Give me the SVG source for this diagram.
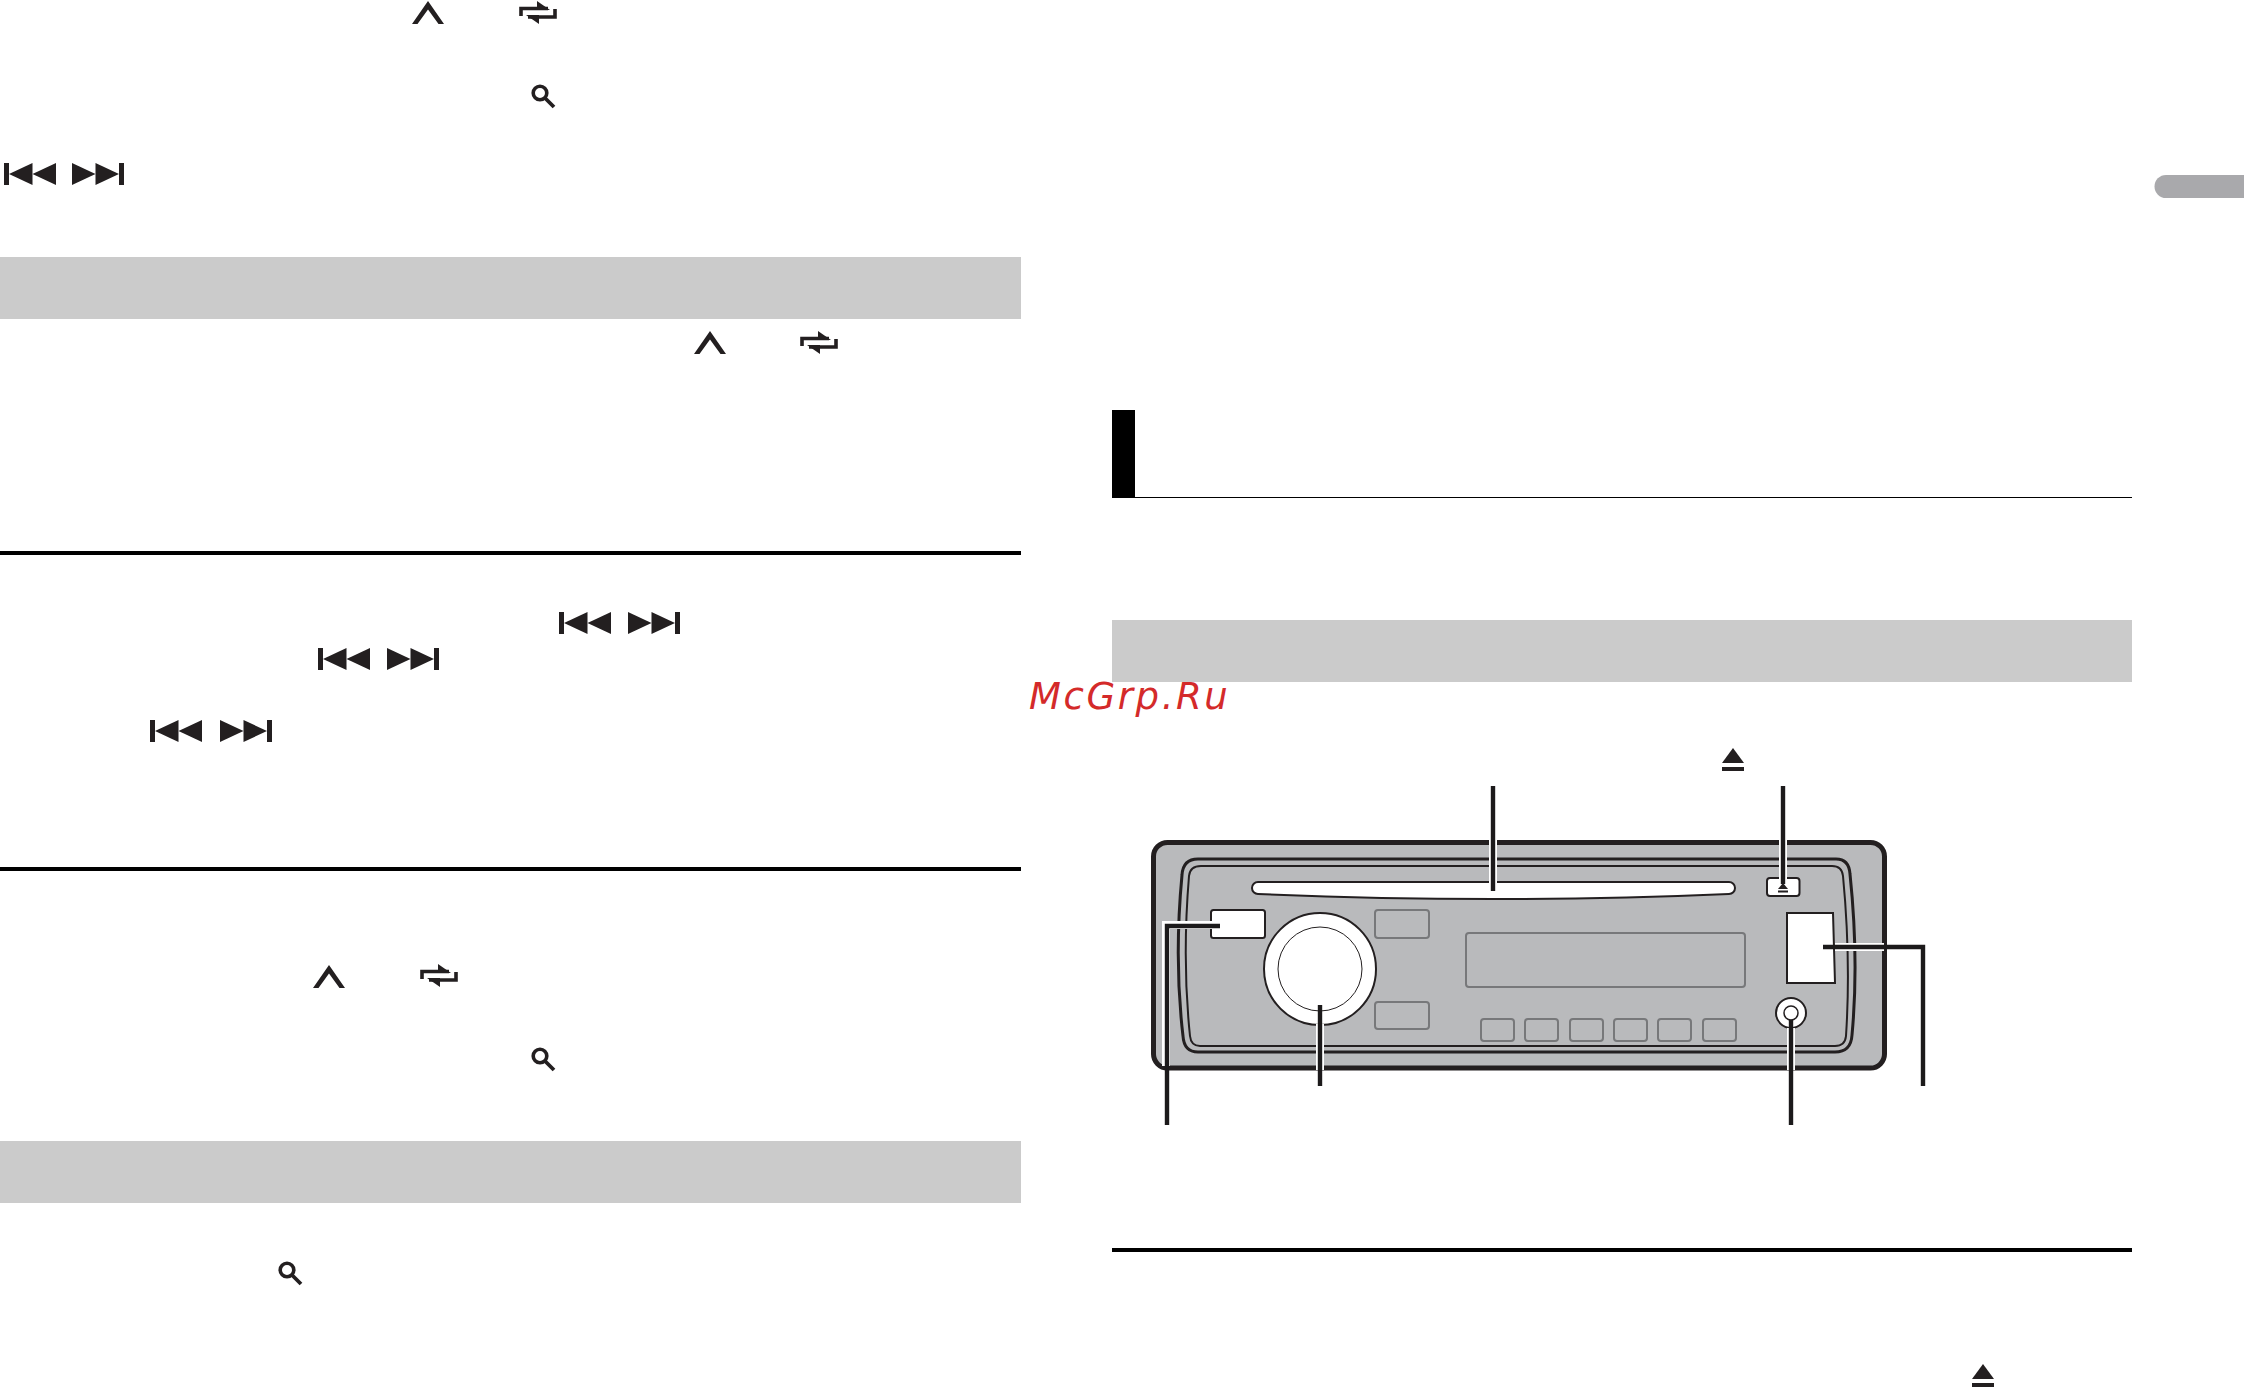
<svg xmlns="http://www.w3.org/2000/svg" width="2244" height="1388" viewBox="0 0 2244 1388">
<style>
.band{fill:#cbcbcb}
.rule{fill:#000}
.ink{fill:#231f20}
.dk{stroke:#231f20;fill:none}
.gb{fill:none;stroke:#77787a;stroke-width:2}
.wb{fill:#fff;stroke:#231f20;stroke-width:2}
.halo{fill:none;stroke:#fff;stroke-width:8}
.lead{fill:none;stroke:#1c1a1b;stroke-width:4.4}
.wm{font-family:"DejaVu Sans",sans-serif;font-style:oblique;font-size:37px;letter-spacing:2.6px;fill:#d42a2a}
</style>
<defs>
<g id="prev" class="ink"><rect x="0" y="0" width="5" height="22"/><polygon points="5,11 28.5,0 28.5,22"/><polygon points="28.5,11 52,0 52,22"/></g>
<g id="next" class="ink"><polygon points="0,0 23.5,11 0,22"/><polygon points="23.5,0 47,11 23.5,22"/><rect x="47" y="0" width="5" height="22"/></g>
<g id="up"><polygon class="ink" points="0,23 16,0 32,23 26.500,23 16,8.500 5.500,23"/></g>
<g id="repeat"><path class="dk" stroke-width="3.6" d="M2 15V7.500H29"/><path class="dk" stroke-width="3.6" d="M36 8V16H9"/><polygon class="ink" points="18,0 31,9 18,9"/><polygon class="ink" points="20,23 7,14 20,14"/></g>
<g id="find"><circle class="dk" stroke-width="3.6" cx="10" cy="9" r="6.800"/><path class="dk" stroke-width="3.8" d="M15 14L24 23"/></g>
<g id="eject"><polygon class="ink" points="0,15 11,0 22,15"/><rect class="ink" x="0" y="19" width="22" height="4"/></g>
</defs>

<g id="page-tab"><path d="M2244 175H2166a11.500 11.500 0 0 0 0 23H2244Z" fill="#a9a9ac"/></g>

<g id="bands">
<rect class="band" x="0" y="257" width="1021" height="62"/>
<rect class="band" x="0" y="1141" width="1021" height="62"/>
<rect class="band" x="1112" y="620" width="1020" height="62"/>
</g>
<g id="rules">
<rect class="rule" x="0" y="551" width="1021" height="4"/>
<rect class="rule" x="0" y="867" width="1021" height="4"/>
<rect class="rule" x="1112" y="1248" width="1020" height="4"/>
<rect class="rule" x="1112" y="410" width="23" height="88"/>
<rect class="rule" x="1135" y="497" width="997" height="1"/>
</g>

<g id="icons">
<use href="#up" x="412" y="1"/>
<use href="#repeat" x="519" y="1"/>
<use href="#find" x="530" y="84"/>
<use href="#prev" x="4" y="163"/>
<use href="#next" x="72" y="163"/>
<use href="#up" x="694" y="331"/>
<use href="#repeat" x="800" y="331"/>
<use href="#prev" x="559" y="612"/>
<use href="#next" x="628" y="612"/>
<use href="#prev" x="318" y="648"/>
<use href="#next" x="387" y="648"/>
<use href="#prev" x="150" y="720"/>
<use href="#next" x="220" y="720"/>
<use href="#up" x="313" y="965"/>
<use href="#repeat" x="420" y="964"/>
<use href="#find" x="530" y="1047"/>
<use href="#find" x="277" y="1261"/>
<use href="#eject" x="1722" y="748"/>
<use href="#eject" x="1972" y="1364"/>
</g>

<g id="device">
<rect x="1153.500" y="842.500" width="731" height="225.500" rx="14" fill="#b9babc" stroke="#231f20" stroke-width="5"/>
<path class="dk" stroke-width="3" d="M1198 859H1836Q1849 859 1850 874Q1859 960 1852 1035Q1851 1052 1835 1052H1198Q1184 1052 1183 1036Q1174 960 1182 875Q1183 859 1198 859Z"/>
<path class="dk" stroke-width="2" d="M1201 866H1832Q1842 866 1843 876Q1851 960 1846 1036Q1845 1046 1835 1046H1200Q1191 1046 1190 1036Q1182 960 1189 876Q1190 866 1201 866Z"/>
<path id="slot" class="wb" stroke-width="1.500" d="M1258 882H1729A6 6 0 0 1 1729 894Q1493 904 1258 894A6 6 0 0 1 1258 882Z"/>
<rect id="eject-btn" class="wb" x="1767" y="878" width="32.500" height="18" rx="3"/>
<rect id="left-btn" class="wb" x="1211" y="910" width="54" height="28" rx="2.500"/>
<g id="knob"><circle class="wb" cx="1320" cy="969" r="56"/><circle cx="1320" cy="969" r="42" fill="#fff" stroke="#231f20" stroke-width="1"/></g>
<rect class="gb" x="1375" y="910" width="54" height="28" rx="3"/>
<rect class="gb" x="1375" y="1002" width="54" height="27" rx="3"/>
<rect class="gb" x="1466" y="933" width="279" height="54" rx="3"/>
<rect class="gb" x="1481" y="1019" width="33" height="22" rx="3"/>
<rect class="gb" x="1525" y="1019" width="33" height="22" rx="3"/>
<rect class="gb" x="1570" y="1019" width="33" height="22" rx="3"/>
<rect class="gb" x="1614" y="1019" width="33" height="22" rx="3"/>
<rect class="gb" x="1658" y="1019" width="33" height="22" rx="3"/>
<rect class="gb" x="1703" y="1019" width="33" height="22" rx="3"/>
<path id="port" class="wb" d="M1787 913H1833L1835 983H1787Z"/>
<g id="jack"><circle class="wb" cx="1791" cy="1013" r="15"/><circle cx="1791" cy="1013" r="7" fill="#fff" stroke="#231f20" stroke-width="1.500"/></g>
</g>

<g id="connectors">
<path class="halo" d="M1493 840V890"/>
<path class="halo" d="M1783 840V880"/>
<path class="halo" d="M1320 1024V1070"/>
<path class="halo" d="M1791 1028V1070"/>
<path class="halo" stroke-width="7" d="M1166 1066V925H1212"/>
<path class="halo" d="M1835 947H1884"/>
<path class="lead" d="M1493 786V891"/>
<path class="lead" d="M1783 786V884"/>
<path class="lead" d="M1220 926H1167V1125"/>
<path class="lead" d="M1320 1005V1086"/>
<path class="lead" d="M1791 1020V1125"/>
<path class="lead" d="M1823 947H1923V1086"/>
</g>
<g id="eject-mark"><polygon class="ink" points="1778,889 1783,883 1788,889"/><rect class="ink" x="1778" y="890.500" width="10" height="2"/></g>

<g id="watermark"><text class="wm" x="1029" y="709">McGrp.Ru</text></g>
</svg>
